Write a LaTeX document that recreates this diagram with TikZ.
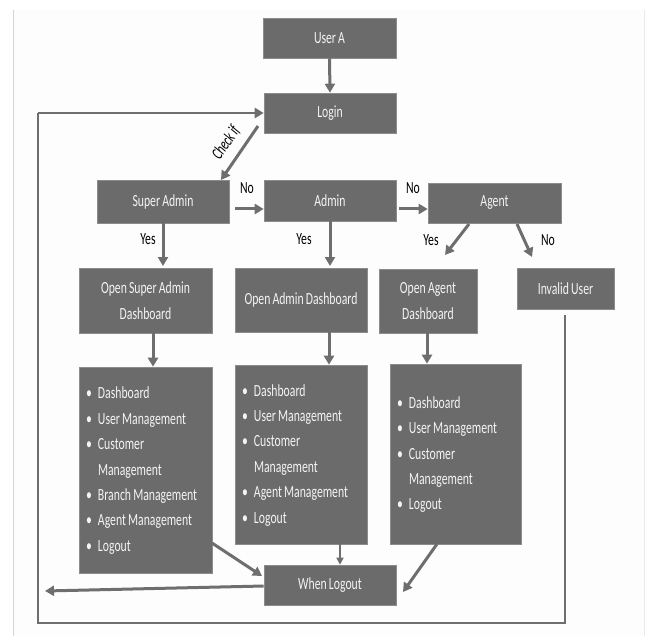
\documentclass[tikz,border=0pt]{standalone}
\usepackage{fontspec}
\setmainfont[FakeStretch=0.69,WordSpace=0.8]{Carlito}
\usetikzlibrary{arrows.meta}
\definecolor{boxgray}{HTML}{6B6B6B}
\definecolor{boxedge}{HTML}{8C8C8C}
\definecolor{linegray}{HTML}{6E6E6E}
\definecolor{txtc}{HTML}{F4F4F4}
\definecolor{bgc}{HTML}{FDFDFD}
\definecolor{framec}{HTML}{D4D4D4}
\newcommand\myb{\makebox[12pt][l]{•}}
\newcommand\myi{\hspace*{12pt}}
\newcommand\mylist[2]{\makebox[#1][l]{\begin{tabular}{@{}l@{}}#2\end{tabular}}}
\tikzset{
  fnt/.style={font=\fontsize{17}{25.4}\selectfont},
  box/.style={fnt, fill=boxgray, draw=boxedge, line width=0.6pt, text=txtc, inner sep=0pt, align=center},
  lst/.style={box, inner xsep=7pt, inner ysep=0pt},
  arr/.style={draw=linegray, line width=3pt, -{Triangle[length=9pt,width=10pt]}},
  thinarr/.style={draw=linegray, line width=1.6pt, -{Triangle[length=7pt,width=7pt]}},
  loopline/.style={draw=linegray, line width=2.2pt},
  lbl/.style={fnt, text=black, inner sep=0pt},
}
\begin{document}
\begin{tikzpicture}[x=1pt,y=-1pt]
\useasboundingbox (0,0) rectangle (647,636);
\fill[bgc] (13,10) rectangle (645,636);
\draw[framec, line width=1pt] (13,10) -- (13,636);
\draw[framec!50, line width=0.6pt] (644.5,10) -- (644.5,636);

% boxes
\node[box, minimum width=133pt, minimum height=40pt] (usera) at (329.5,38) {User A};
\node[box, minimum width=132pt, minimum height=40pt] (login) at (330,113) {Login};
\node[box, minimum width=132pt, minimum height=43pt] (sadmin) at (163,201.5) {Super Admin};
\node[box, minimum width=132pt, minimum height=41pt] (admin) at (330,200.5) {Admin};
\node[box, minimum width=133pt, minimum height=40pt] (agent) at (494.5,203) {Agent};
\node[box, minimum width=133pt, minimum height=65pt] (osa) at (145.5,300.5) {Open Super Admin\\Dashboard};
\node[box, minimum width=132pt, minimum height=64pt] (oad) at (301,300) {Open Admin Dashboard};
\node[box, minimum width=98pt, minimum height=64pt] (oag) at (428,301) {Open Agent\\Dashboard};
\node[box, minimum width=97pt, minimum height=41pt] (inv) at (565.5,288.5) {Invalid User};

\node[lst, minimum height=206pt] (lsa) at (145.5,470) {\mylist{119pt}{\myb Dashboard\\\myb User Management\\\myb Customer\\\myi Management\\\myb Branch Management\\\myb Agent Management\\\myb Logout}};
\node[lst, minimum height=179pt] (lad) at (301,454.5) {\mylist{118pt}{\myb Dashboard\\\myb User Management\\\myb Customer\\\myi Management\\\myb Agent Management\\\myb Logout}};
\node[lst, minimum height=180pt] (lag) at (455.5,454) {\mylist{117pt}{\myb Dashboard\\\myb User Management\\\myb Customer\\\myi Management\\\myb Logout}};
\node[box, minimum width=132pt, minimum height=40pt] (wl) at (330,585) {When Logout};

% coordinates for connector ends
\coordinate (chkS) at (258,126);
\coordinate (chkE) at (221,180);
\coordinate (no1S) at (235,209);
\coordinate (no2S) at (399,209);
\coordinate (ayS) at (469,224);
\coordinate (ayE) at (445,255);
\coordinate (anS) at (517,224);
\coordinate (anE) at (532,257);
\coordinate (invB) at (565,315);
\coordinate (cBR) at (565,623);
\coordinate (cBL) at (38,623);
\coordinate (cTL) at (38,113);
\coordinate (wlE) at (45,591);
\coordinate (lsaS) at (212,543);
\coordinate (wlA) at (262,576);
\coordinate (lagS) at (437,544);
\coordinate (wlB) at (403,592);

% connectors
\draw[arr] (usera.south) -- (login.north);
\draw[arr] (chkS) -- (chkE);
\draw[arr] (no1S) -- (admin.west |- no1S);
\draw[arr] (no2S) -- (agent.west |- no2S);
\draw[arr] (163,223) -- (163,266);
\draw[arr] (admin.south) -- (330,266);
\draw[arr] (ayS) -- (ayE);
\draw[arr] (anS) -- (anE);
\draw[arr] (osa.south -| 153,0) -- (lsa.north -| 153,0);
\draw[arr] (oad.south -| 329,0) -- (lad.north -| 329,0);
\draw[arr] (oag.south -| 427,0) -- (lag.north -| 427,0);
\draw[thinarr] (lad.south -| 340,0) -- (wl.north -| 340,0);
\draw[arr] (lsaS) -- (wlA);
\draw[arr] (lagS) -- (wlB);
\draw[arr] (wl.west |- 0,586) -- (wlE);
\draw[loopline] (invB) -- (cBR) -- (cBL) -- (cTL);
\draw[arr, line width=2.4pt] (cTL) -- (login.west);

% labels
\node[lbl, font=\fontsize{17}{20}\selectfont\itshape, rotate=55.6] (chk) at (226,143) {Check if};
\node[lbl] (no1) at (247,188) {No};
\node[lbl] (no2) at (413,188) {No};
\node[lbl] (y1) at (148,239) {Yes};
\node[lbl] (y2) at (304,239) {Yes};
\node[lbl] (y3) at (431,240) {Yes};
\node[lbl] (n3) at (548,240) {No};
\end{tikzpicture}
\end{document}
